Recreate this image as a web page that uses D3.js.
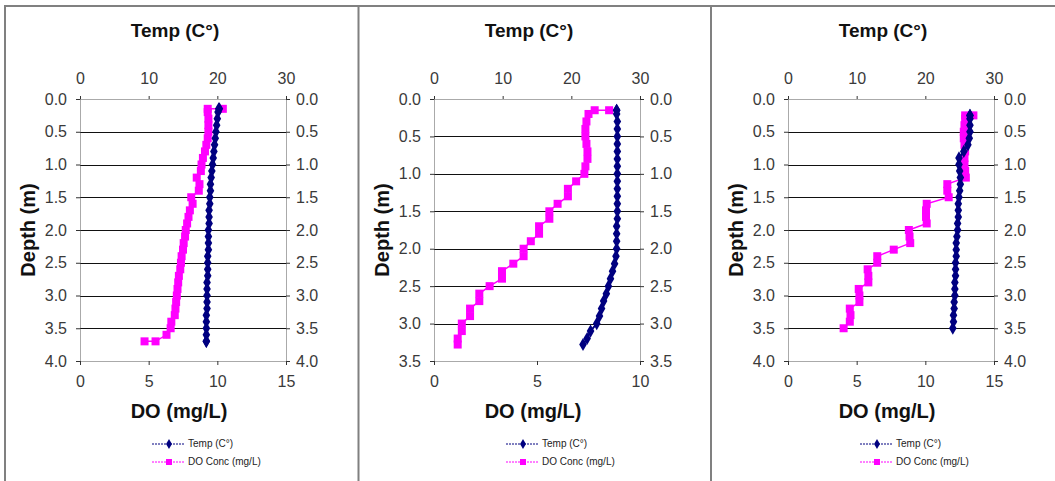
<!DOCTYPE html>
<html>
<head>
<meta charset="utf-8">
<script src="https://cdn.jsdelivr.net/npm/d3@7"></script>
<style>
  body { margin: 0; background: #fff; }
  svg { display: block; font-family: Arial, "Liberation Sans", sans-serif; }
</style>
</head>
<body>
<div id="chart"></div>
<script>
// --- data ---
const tempTicks = [0, 10, 20, 30];
const depthTicksA = [0, 0.5, 1.0, 1.5, 2.0, 2.5, 3.0, 3.5, 4.0];
const depthTicksB = [0, 0.5, 1.0, 1.5, 2.0, 2.5, 3.0, 3.5];
const doTicksA = [0, 5, 10, 15];
const doTicksB = [0, 5, 10];

// panel 1
const depth1 = [0.15, 0.15, 0.2, 0.3, 0.4, 0.5, 0.6, 0.7, 0.8, 0.9,
  1.0, 1.1, 1.2, 1.3, 1.4, 1.5, 1.6, 1.7, 1.8, 1.9,
  2.0, 2.1, 2.2, 2.3, 2.4, 2.5, 2.6, 2.7, 2.8, 2.9,
  3.0, 3.1, 3.2, 3.3, 3.4, 3.5, 3.6, 3.7, 3.7];
const temp1 = [20.3, 20.2, 20.1, 20.0, 19.9, 19.8, 19.7, 19.6, 19.5, 19.4,
  19.3, 19.2, 19.1, 19.0, 19.0, 18.9, 18.9, 18.8, 18.8, 18.8,
  18.7, 18.7, 18.7, 18.7, 18.6, 18.6, 18.6, 18.6, 18.5, 18.5,
  18.5, 18.5, 18.5, 18.4, 18.4, 18.4, 18.4, 18.4, 18.4];
const do1 = [10.4, 9.3, 9.3, 9.35, 9.35, 9.35, 9.3, 9.2, 9.1, 8.95,
  8.85, 8.8, 8.5, 8.7, 8.65, 8.1, 8.2, 8.0, 7.9, 7.8,
  7.7, 7.65, 7.55, 7.5, 7.4, 7.35, 7.3, 7.2, 7.15, 7.1,
  7.05, 7.0, 6.95, 6.9, 6.65, 6.6, 6.3, 5.5, 4.7];

// panel 2
const depth2 = [0.15, 0.15, 0.2, 0.3, 0.4, 0.5, 0.6, 0.7, 0.8, 0.9,
  1.0, 1.1, 1.2, 1.3, 1.4, 1.5, 1.6, 1.7, 1.8, 1.9,
  2.0, 2.1, 2.2, 2.3, 2.4, 2.5, 2.6, 2.7, 2.8, 2.9,
  3.0, 3.1, 3.2, 3.28];
const temp2 = [26.6, 26.6, 26.6, 26.7, 26.7, 26.7, 26.7, 26.7, 26.7, 26.7,
  26.7, 26.7, 26.7, 26.7, 26.7, 26.7, 26.7, 26.6, 26.6, 26.6,
  26.6, 26.5, 26.3, 26.0, 25.7, 25.4, 25.1, 24.7, 24.4, 24.1,
  23.7, 22.8, 22.3, 21.7];
const do2 = [8.5, 7.8, 7.5, 7.4, 7.35, 7.35, 7.4, 7.45, 7.45, 7.35,
  7.3, 6.9, 6.5, 6.5, 6.0, 5.6, 5.6, 5.1, 5.1, 4.7,
  4.35, 4.35, 3.85, 3.3, 3.3, 2.7, 2.2, 2.2, 1.75, 1.75,
  1.35, 1.35, 1.15, 1.15];

// panel 3
const depth3 = [0.25, 0.25, 0.3, 0.4, 0.5, 0.6, 0.7, 0.8, 0.9, 1.0,
  1.1, 1.2, 1.3, 1.4, 1.5, 1.6, 1.7, 1.8, 1.9, 2.0,
  2.1, 2.2, 2.3, 2.4, 2.5, 2.6, 2.7, 2.8, 2.9, 3.0,
  3.1, 3.2, 3.3, 3.4, 3.5];
const temp3 = [26.5, 26.5, 26.5, 26.5, 26.5, 26.4, 26.2, 25.6, 24.9, 24.9,
  25.0, 25.1, 25.1, 25.0, 24.9, 24.8, 24.8, 24.8, 24.7, 24.7,
  24.6, 24.5, 24.5, 24.5, 24.4, 24.4, 24.4, 24.3, 24.3, 24.3,
  24.2, 24.2, 24.1, 24.1, 24.0];
const do3 = [13.5, 12.9, 12.9, 12.85, 12.8, 12.8, 12.85, 12.9, 12.85, 12.85,
  12.9, 12.95, 11.6, 11.6, 11.7, 10.1, 10.05, 10.05, 10.1, 8.8,
  8.85, 8.9, 7.7, 6.5, 6.5, 5.8, 5.85, 5.85, 5.15, 5.2,
  5.2, 4.5, 4.55, 4.5, 4.05];

const width = 1055;
const height = 481;
const tempColor = "#000080";
const doColor = "#ff00ff";

const panels = [
  { left: 80,  depth: depth1, temp: temp1, dox: do1, depthMax: 4.0, depthTicks: depthTicksA, doMax: 15, doTicks: doTicksA },
  { left: 434, depth: depth2, temp: temp2, dox: do2, depthMax: 3.5, depthTicks: depthTicksB, doMax: 10, doTicks: doTicksB },
  { left: 788, depth: depth3, temp: temp3, dox: do3, depthMax: 4.0, depthTicks: depthTicksA, doMax: 15, doTicks: doTicksA }
];
const plotW = 206;
const plotTop = 99;
const plotBottom = 361;

const svg = d3.select("#chart").append("svg")
  .attr("width", width)
  .attr("height", height);

svg.append("rect").attr("width", width).attr("height", height).attr("fill", "#fff");

// outer frame lines
const frame = svg.append("g").attr("stroke", "#808080").attr("stroke-width", 2);
frame.append("line").attr("x1", 4).attr("x2", width).attr("y1", 6).attr("y2", 6);
[5, 358.5, 711].forEach(x => {
  frame.append("line").attr("x1", x).attr("x2", x).attr("y1", 6).attr("y2", height);
});

function styleAxis(sel) {
  sel.select(".domain").attr("stroke", "#555").attr("stroke-dasharray", "1,1");
  sel.selectAll(".tick line").attr("stroke", "#333");
  sel.selectAll("text")
    .attr("fill", "#3a3a3a")
    .style("font-size", "16px")
    .style("font-family", "Arial, 'Liberation Sans', sans-serif");
}

panels.forEach(p => {
  const g = svg.append("g");
  const x0 = p.left, x1 = p.left + plotW;
  const cx = (x0 + x1) / 2;

  const y = d3.scaleLinear().domain([0, p.depthMax]).range([plotTop, plotBottom]);
  const xTemp = d3.scaleLinear().domain([0, 30]).range([x0, x1]);
  const xDO = d3.scaleLinear().domain([0, p.doMax]).range([x0, x1]);

  // gridlines
  g.append("g")
    .selectAll("line")
    .data(p.depthTicks.filter(d => d > 0 && d < p.depthMax))
    .enter().append("line")
    .attr("x1", x0).attr("x2", x1)
    .attr("y1", d => Math.round(y(d)) + 0.5)
    .attr("y2", d => Math.round(y(d)) + 0.5)
    .attr("stroke", "#111")
    .attr("stroke-width", 1);

  // axes
  g.append("g")
    .attr("transform", `translate(${x0},0)`)
    .call(d3.axisLeft(y).tickValues(p.depthTicks).tickFormat(d3.format(".1f")).tickSize(4).tickPadding(9).tickSizeOuter(0))
    .call(styleAxis);
  g.append("g")
    .attr("transform", `translate(${x1},0)`)
    .call(d3.axisRight(y).tickValues(p.depthTicks).tickFormat(d3.format(".1f")).tickSize(4).tickPadding(6).tickSizeOuter(0))
    .call(styleAxis);
  g.append("g")
    .attr("transform", `translate(0,${plotTop})`)
    .call(d3.axisTop(xTemp).tickValues(tempTicks).tickSize(3).tickPadding(12).tickSizeOuter(0))
    .call(styleAxis);
  g.append("g")
    .attr("transform", `translate(0,${plotBottom})`)
    .call(d3.axisBottom(xDO).tickValues(p.doTicks).tickSize(4).tickPadding(11).tickSizeOuter(0))
    .call(styleAxis);

  // series
  const tempData = p.depth.map((d, i) => ({ depth: d, v: p.temp[i] }));
  const doData = p.depth.map((d, i) => ({ depth: d, v: p.dox[i] }));

  const doLine = d3.line().x(d => xDO(d.v)).y(d => y(d.depth));
  const tempLine = d3.line().x(d => xTemp(d.v)).y(d => y(d.depth));

  g.append("path").datum(doData)
    .attr("d", doLine).attr("fill", "none").attr("stroke", doColor).attr("stroke-width", 1.5);
  g.selectAll(".do-pt").data(doData).enter().append("rect")
    .attr("class", "do-pt")
    .attr("x", d => xDO(d.v) - 4).attr("y", d => y(d.depth) - 4)
    .attr("width", 8).attr("height", 8)
    .attr("fill", doColor);

  g.append("path").datum(tempData)
    .attr("d", tempLine).attr("fill", "none").attr("stroke", tempColor).attr("stroke-width", 2);
  g.selectAll(".t-pt").data(tempData).enter().append("path")
    .attr("class", "t-pt")
    .attr("transform", d => `translate(${xTemp(d.v)},${y(d.depth)})`)
    .attr("d", d3.symbol(d3.symbolDiamond, 50))
    .attr("fill", tempColor);

  // titles
  g.append("text")
    .attr("x", cx - 8).attr("y", 37)
    .attr("text-anchor", "middle")
    .style("font-size", "19px").style("font-weight", "bold").attr("fill", "#111")
    .text("Temp (C°)");
  g.append("text")
    .attr("x", cx - 4).attr("y", 418)
    .attr("text-anchor", "middle")
    .style("font-size", "20px").style("font-weight", "bold").attr("fill", "#111")
    .text("DO (mg/L)");
  g.append("text")
    .attr("transform", `translate(${x0 - 45},${(plotTop + plotBottom) / 2}) rotate(-90)`)
    .attr("text-anchor", "middle")
    .style("font-size", "20px").style("font-weight", "bold").attr("fill", "#111")
    .text("Depth (m)");

  // legend
  const lx = cx - 31;
  const legendItems = [
    { label: "Temp (C°)", color: tempColor, y: 444, shape: "diamond" },
    { label: "DO Conc (mg/L)", color: doColor, y: 462, shape: "square" }
  ];
  legendItems.forEach(item => {
    g.append("line")
      .attr("x1", lx).attr("x2", lx + 33)
      .attr("y1", item.y).attr("y2", item.y)
      .attr("stroke", item.color).attr("stroke-width", 1)
      .attr("stroke-dasharray", "2,1");
    if (item.shape === "diamond") {
      g.append("path")
        .attr("transform", `translate(${lx + 17},${item.y})`)
        .attr("d", d3.symbol(d3.symbolDiamond, 30))
        .attr("fill", item.color);
    } else {
      g.append("rect")
        .attr("x", lx + 14).attr("y", item.y - 3)
        .attr("width", 6).attr("height", 6)
        .attr("fill", item.color);
    }
    g.append("text")
      .attr("x", lx + 36).attr("y", item.y + 3)
      .style("font-size", "10px").attr("fill", "#222")
      .text(item.label);
  });
});
</script>
</body>
</html>
